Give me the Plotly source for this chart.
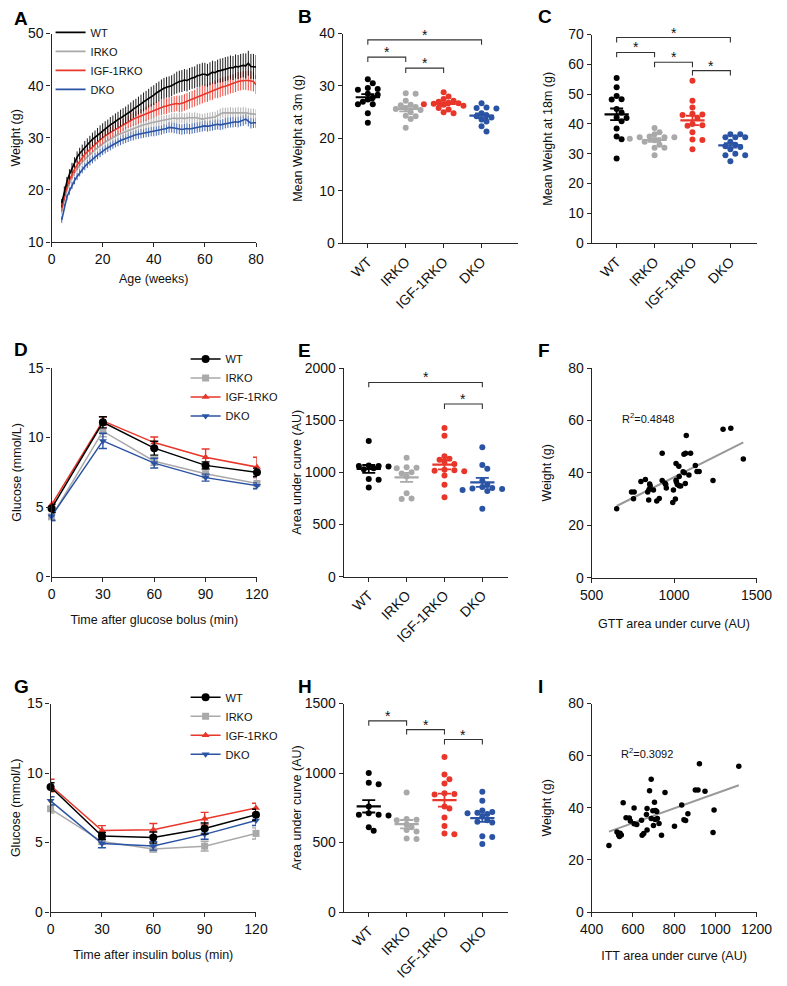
import numpy as np
import plotly.graph_objects as go

W, H = 787, 986
FONT = "Liberation Sans, Arial, sans-serif"

groups = ["WT", "IRKO", "IGF-1RKO", "DKO"]
colors = ["#000000", "#a9a9a9", "#e8362a", "#2b53a4"]

# ---------------- Panel A: weekly body weight ----------------
weeks = list(range(4, 81))
wt_weight = [17.5, 19.8, 21.6, 23.0, 24.2, 25.3, 26.3, 27.0, 27.6, 28.2, 28.7, 29.2, 29.7, 30.1, 30.6, 31.0, 31.4,
             31.8, 32.1, 32.5, 32.8, 33.2, 33.5, 33.8, 34.1, 34.4, 34.8, 35.1, 35.5, 35.8, 36.2, 36.5, 36.9, 37.2,
             37.6, 37.9, 38.2, 38.6, 38.9, 39.3, 39.5, 39.7, 39.8, 40.0, 40.3, 40.6, 40.8, 40.9, 41.1, 41.0, 41.3,
             41.5, 41.6, 41.9, 42.0, 42.2, 42.2, 42.0, 42.3, 42.6, 42.5, 42.8, 42.9, 43.0, 43.2, 43.3, 43.5, 43.4,
             43.7, 43.6, 43.8, 43.9, 43.8, 44.3, 43.7, 43.7, 43.6]
irko_weight = [15.8, 18.3, 20.0, 21.3, 22.4, 23.3, 24.1, 24.8, 25.4, 25.9, 26.4, 26.9, 27.3, 27.7, 28.1, 28.5, 28.9,
               29.2, 29.5, 29.8, 30.1, 30.3, 30.6, 30.8, 31.0, 31.2, 31.4, 31.6, 31.8, 32.0, 32.2, 32.3, 32.5, 32.6,
               32.8, 32.9, 33.0, 33.1, 33.2, 33.3, 33.3, 33.4, 33.5, 33.7, 33.8, 33.7, 33.8, 33.8, 33.7, 33.8, 33.9,
               33.8, 33.9, 33.8, 33.7, 33.6, 33.7, 33.8, 33.9, 34.0, 34.0, 34.3, 34.6, 34.8, 34.8, 34.8, 34.9, 34.8,
               34.8, 34.9, 34.8, 34.9, 34.8, 34.7, 34.6, 34.6, 34.5]
igf_weight = [16.5, 18.8, 20.6, 21.9, 23.0, 24.0, 24.8, 25.5, 26.2, 26.8, 27.3, 27.8, 28.3, 28.8, 29.2, 29.6, 30.0,
              30.4, 30.7, 31.0, 31.3, 31.6, 31.9, 32.2, 32.5, 32.8, 33.1, 33.4, 33.6, 33.8, 34.0, 34.2, 34.4, 34.6,
              34.9, 35.1, 35.3, 35.5, 35.7, 35.9, 36.0, 36.1, 36.3, 36.4, 36.5, 36.6, 36.5, 36.6, 36.8, 37.0, 37.2,
              37.4, 37.6, 37.9, 38.1, 38.3, 38.5, 38.6, 38.9, 39.0, 39.3, 39.4, 39.6, 39.8, 39.9, 40.1, 40.3, 40.4,
              40.6, 40.8, 40.9, 41.0, 41.0, 41.0, 40.9, 40.8, 40.2]
dko_weight = [14.3, 16.8, 18.6, 19.8, 20.9, 21.8, 22.6, 23.3, 23.9, 24.5, 25.0, 25.5, 25.9, 26.3, 26.7, 27.1, 27.5,
              27.8, 28.1, 28.4, 28.7, 29.0, 29.2, 29.5, 29.7, 29.9, 30.1, 30.3, 30.4, 30.6, 30.7, 30.8, 30.9, 31.0,
              31.1, 31.2, 31.2, 31.3, 31.4, 31.5, 31.7, 31.8, 32.0, 32.0, 31.9, 31.8, 31.7, 31.6, 31.7, 31.8, 31.7,
              31.8, 31.9, 32.0, 32.1, 32.2, 32.3, 32.2, 32.3, 32.4, 32.5, 32.6, 32.5, 32.6, 32.8, 32.9, 33.0, 33.0,
              33.1, 33.0, 33.2, 33.3, 33.6, 33.2, 32.8, 32.9, 32.9]
wt_weight_sem = [0.8, 0.9, 0.9, 1.0, 1.0, 1.0, 1.1, 1.1, 1.1, 1.2, 1.2, 1.2, 1.3, 1.3, 1.3, 1.4, 1.4, 1.4, 1.4, 1.5,
                 1.5, 1.5, 1.5, 1.6, 1.6, 1.6, 1.6, 1.7, 1.7, 1.7, 1.7, 1.8, 1.8, 1.8, 1.8, 1.9, 1.9, 1.9, 1.9, 1.9,
                 2.0, 2.0, 2.0, 2.0, 2.0, 2.1, 2.1, 2.1, 2.1, 2.1, 2.1, 2.1, 2.1, 2.2, 2.2, 2.2, 2.2, 2.2, 2.2, 2.2,
                 2.2, 2.2, 2.3, 2.3, 2.3, 2.3, 2.3, 2.3, 2.3, 2.3, 2.3, 2.3, 2.4, 2.4, 2.4, 2.4, 2.3]
irko_weight_sem = [0.5, 0.6, 0.6, 0.6, 0.6, 0.7, 0.7, 0.7, 0.7, 0.7, 0.7, 0.7, 0.7, 0.8, 0.8, 0.8, 0.8, 0.8, 0.8,
                   0.8, 0.8, 0.8, 0.8, 0.8, 0.9, 0.9, 0.9, 0.9, 0.9, 0.9, 0.9, 0.9, 0.9, 0.9, 0.9, 0.9, 1.0, 1.0,
                   1.0, 1.0, 1.0, 1.0, 1.0, 1.0, 1.0, 1.0, 1.0, 1.0, 1.0, 1.0, 1.0, 1.0, 1.0, 1.0, 1.0, 1.0, 1.0,
                   1.0, 1.0, 1.0, 1.0, 1.0, 1.0, 1.0, 1.0, 1.0, 1.0, 1.0, 1.0, 1.0, 1.0, 1.0, 1.0, 1.0, 1.0, 1.0, 1.0]
igf_weight_sem = [0.6, 0.7, 0.7, 0.8, 0.8, 0.8, 0.9, 0.9, 0.9, 0.9, 1.0, 1.0, 1.0, 1.0, 1.0, 1.1, 1.1, 1.1, 1.1,
                  1.1, 1.1, 1.2, 1.2, 1.2, 1.2, 1.2, 1.2, 1.3, 1.3, 1.3, 1.3, 1.3, 1.3, 1.4, 1.4, 1.4, 1.4, 1.4,
                  1.4, 1.5, 1.5, 1.5, 1.5, 1.5, 1.5, 1.5, 1.6, 1.6, 1.6, 1.6, 1.6, 1.6, 1.6, 1.7, 1.7, 1.7, 1.7,
                  1.7, 1.7, 1.7, 1.7, 1.8, 1.8, 1.8, 1.8, 1.8, 1.8, 1.8, 1.8, 1.8, 1.8, 1.8, 1.8, 1.9, 1.9, 1.9, 1.8]
dko_weight_sem = [0.6, 0.6, 0.6, 0.7, 0.7, 0.7, 0.7, 0.7, 0.7, 0.7, 0.8, 0.8, 0.8, 0.8, 0.8, 0.8, 0.8, 0.8, 0.8,
                  0.8, 0.8, 0.8, 0.8, 0.9, 0.9, 0.9, 0.9, 0.9, 0.9, 0.9, 0.9, 0.9, 0.9, 0.9, 0.9, 0.9, 0.9, 0.9,
                  0.9, 0.9, 0.9, 0.9, 1.0, 1.0, 1.0, 1.0, 1.0, 1.0, 1.0, 1.0, 1.0, 1.0, 1.0, 1.0, 1.0, 1.0, 1.0,
                  1.0, 1.0, 1.0, 1.0, 1.0, 1.0, 1.0, 1.0, 1.0, 1.0, 1.0, 1.0, 1.0, 1.0, 1.0, 1.0, 1.0, 1.0, 1.0, 1.0]

# ---------------- Panel B: weight at 3 months ----------------
b_wt = [31.3, 30.5, 29.6, 29.4, 29.3, 28.5, 28.3, 27.8, 27.4, 27.0, 26.5, 26.5, 24.8, 23.0]
b_irko = [28.6, 28.5, 27.2, 26.4, 26.3, 26.0, 25.8, 25.6, 25.4, 25.0, 24.3, 24.2, 23.7, 22.0]
b_igf = [28.8, 28.0, 27.5, 27.2, 27.0, 26.8, 26.7, 26.6, 26.5, 26.4, 26.2, 25.8, 25.5, 25.0, 24.8]
b_dko = [26.7, 25.9, 25.8, 25.7, 24.8, 24.2, 24.4, 24.0, 23.6, 23.2, 22.3, 21.3]

# ---------------- Panel C: weight at 18 months ----------------
c_wt = [55.4, 52.3, 49.4, 48.3, 48.2, 45.0, 43.8, 42.0, 42.2, 40.9, 38.5, 35.8, 34.9, 28.4]
c_irko = [38.6, 37.2, 36.5, 35.8, 35.5, 35.5, 35.5, 35.0, 34.5, 34.0, 33.0, 32.0, 32.0, 29.5]
c_igf = [54.5, 47.8, 45.5, 43.4, 43.2, 43.0, 42.0, 40.0, 39.6, 39.4, 37.2, 34.8, 34.6, 31.5]
c_dko = [36.5, 36.5, 35.5, 35.5, 35.5, 34.0, 33.0, 32.5, 32.3, 31.5, 30.0, 29.5, 29.5, 27.5]

# ---------------- Panel D: GTT ----------------
gtt_time = [0, 30, 60, 90, 120]
gtt_mean = {"WT": [4.9, 11.1, 9.24, 8.0, 7.5],
            "IRKO": [4.3, 10.46, 8.3, 7.4, 6.7],
            "IGF-1RKO": [5.17, 11.2, 9.64, 8.58, 7.88],
            "DKO": [4.35, 9.76, 8.16, 7.12, 6.54]}
gtt_sem = {"WT": [0.3, 0.4, 0.5, 0.25, 0.3],
           "IRKO": [0.3, 0.4, 0.3, 0.3, 0.4],
           "IGF-1RKO": [0.2, 0.3, 0.4, 0.6, 0.7],
           "DKO": [0.3, 0.55, 0.35, 0.25, 0.2]}

# ---------------- Panel E: GTT AUC ----------------
e_wt = [1300, 1065, 1060, 1060, 1055, 1040, 1030, 935, 930, 855]
e_irko = [1140, 1050, 1045, 1040, 1000, 990, 960, 800, 750, 745]
e_igf = [1425, 1350, 1155, 1130, 1120, 1100, 1080, 1025, 1020, 1015, 1010, 970, 880, 760]
e_dko = [1240, 1070, 1035, 920, 880, 860, 850, 845, 840, 830, 820, 650]

# ---------------- Panel F: weight vs GTT AUC ----------------
f_auc = [652, 742, 758, 754, 799, 826, 846, 852, 855, 840, 848, 875, 895, 910, 928, 928, 949, 953, 945, 992,
         996, 1008, 1012, 1014, 1012, 1029, 1031, 1031, 1055, 1060, 1070, 1068, 1074, 1090, 1100, 1129, 1139,
         1152, 1236, 1297, 1344, 1420, 1040, 1020, 1062]
f_weight = [26.3, 32.7, 32.7, 30.1, 36.7, 37.5, 29.6, 35.7, 35.0, 32.7, 33.6, 33.4, 29.2, 30.2, 47.5, 37.1, 35.5,
            34.2, 36.0, 28.7, 33.4, 30.0, 43.6, 36.5, 37.2, 42.5, 38.6, 35.1, 40.4, 47.1, 47.5, 35.9, 54.3, 39.2,
            47.5, 42.8, 40.5, 40.5, 37.1, 56.6, 57.0, 45.3, 35.0, 35.5, 40.0]
f_r2 = "R<sup>2</sup>=0.4848"

# ---------------- Panel G: ITT ----------------
itt_time = [0, 30, 60, 90, 120]
itt_mean = {"WT": [9.0, 5.47, 5.36, 6.01, 7.0],
            "IRKO": [7.43, 5.07, 4.53, 4.74, 5.66],
            "IGF-1RKO": [9.1, 5.87, 5.92, 6.72, 7.48],
            "DKO": [8.0, 4.93, 4.76, 5.59, 6.58]}
itt_sem = {"WT": [0.3, 0.25, 0.4, 0.4, 0.4],
           "IRKO": [0.3, 0.2, 0.2, 0.35, 0.4],
           "IGF-1RKO": [0.45, 0.35, 0.45, 0.45, 0.35],
           "DKO": [0.3, 0.3, 0.3, 0.35, 0.35]}

# ---------------- Panel H: ITT AUC ----------------
h_wt = [1000, 930, 920, 760, 710, 700, 700, 695, 610, 585]
h_irko = [860, 670, 665, 660, 630, 610, 590, 580, 530, 525]
h_igf = [1115, 990, 955, 925, 855, 850, 845, 760, 745, 680, 620, 565, 560]
h_dko = [865, 800, 730, 720, 715, 710, 705, 690, 660, 650, 645, 545, 540, 490]

# ---------------- Panel I: weight vs ITT AUC ----------------
i_auc = [484, 523, 531, 538, 544, 535, 553, 567, 583, 588, 606, 606, 619, 642, 645, 653, 666, 669, 669, 681,
         689, 689, 697, 705, 700, 708, 716, 719, 727, 739, 756, 802, 837, 848, 856, 867, 903, 916, 923, 950,
         989, 994, 1114, 710]
i_weight = [25.5, 30.7, 29.6, 30.2, 29.6, 29.0, 41.9, 36.2, 36.1, 34.9, 39.9, 33.9, 33.6, 35.2, 29.5, 30.1, 37.4,
            39.7, 31.5, 46.5, 51.0, 35.9, 38.9, 42.1, 33.2, 35.5, 38.6, 35.9, 34.0, 29.5, 45.9, 32.9, 41.1, 35.4,
            35.1, 37.7, 46.8, 46.8, 56.9, 46.4, 30.5, 39.2, 55.9, 39.0]
i_r2 = "R<sup>2</sup>=0.3092"

# significance brackets: (group i, group j, height)
b_sig = [(0, 3, 38.8), (0, 1, 35.5), (1, 2, 33.4)]
c_sig = [(0, 3, 69.0), (0, 1, 64.0), (1, 2, 60.7), (2, 3, 57.9)]
e_sig = [(0, 3, 1862), (2, 3, 1655)]
h_sig = [(0, 1, 1375), (1, 2, 1312), (2, 3, 1241)]

# ------------------------------------------------------------------
fig = go.Figure()

# panel pixel boxes: (left, right, top, bottom)
boxes = {
    1: (41, 253, 26, 238), 2: (343, 525, 26, 239), 3: (601, 772, 27, 239),
    4: (41, 254, 366, 578), 5: (344, 514, 366, 578), 6: (601, 772, 366, 579),
    7: (40, 253, 707, 919), 8: (344, 514, 707, 919), 9: (601, 772, 707, 919),
}
axis_line = "#262626"
TICK_SIZE = 14
TITLE_SIZE = 12.5
base_axis = dict(showline=True, linecolor=axis_line, linewidth=1.2, ticks="outside", ticklen=4,
                 tickwidth=1.2, tickcolor=axis_line, showgrid=False, zeroline=False,
                 tickfont=dict(size=TICK_SIZE, color="#111", family=FONT), fixedrange=True)
layout = {}


def set_axes(n, xr, yr, xtitle=None, ytitle=None, xdtick=None, ydtick=None, cat=False,
             ystand=10, xstand=8):
    l, r, t, b = boxes[n]
    xa = dict(base_axis, domain=[l / W, r / W], range=xr, anchor="y" + ("" if n == 1 else str(n)))
    ya = dict(base_axis, domain=[1 - b / H, 1 - t / H], range=yr, anchor="x" + ("" if n == 1 else str(n)))
    if cat:
        xa.update(tickmode="array", tickvals=list(range(len(groups))), ticktext=groups, tickangle=-45)
    else:
        xa.update(dtick=xdtick, tick0=xr[0])
    ya.update(dtick=ydtick, tick0=0)
    if xtitle:
        xa["title"] = dict(text=xtitle, font=dict(size=TITLE_SIZE, color="#111", family=FONT), standoff=xstand)
    if ytitle:
        ya["title"] = dict(text=ytitle, font=dict(size=TITLE_SIZE, color="#111", family=FONT), standoff=ystand)
    key = "" if n == 1 else str(n)
    layout["xaxis" + key] = xa
    layout["yaxis" + key] = ya


def axref(n):
    return ("x", "y") if n == 1 else ("x" + str(n), "y" + str(n))


# ---- Panel A ----
set_axes(1, [0, 80], [10, 50], "Age (weeks)", "Weight (g)", 20, 10, ystand=4, xstand=8)
a_series = [("DKO", dko_weight, dko_weight_sem), ("IRKO", irko_weight, irko_weight_sem),
            ("IGF-1RKO", igf_weight, igf_weight_sem), ("WT", wt_weight, wt_weight_sem)]
for name, ys, es in a_series:
    gi = groups.index(name)
    c = colors[gi]
    fig.add_trace(go.Scatter(x=weeks, y=ys, mode="lines", name=name, line=dict(color=c, width=1.6),
                             error_y=dict(type="data", array=es, width=0, thickness=0.9, color=c),
                             xaxis="x", yaxis="y", legend="legend", showlegend=True, legendrank=gi + 1))


# ---- dot plots ----
def swarm_offsets(vals, ppu_y, ppu_x=39.3, d=5.4):
    placed = []
    offs = [0.0] * len(vals)
    order = sorted(range(len(vals)), key=lambda k: -vals[k])
    for k in order:
        y = vals[k] * ppu_y
        cands = [0]
        for s in range(1, 12):
            cands += [s * d * 0.95, -s * d * 0.95]
        for cx in cands:
            ok = all((cx - px) ** 2 + (y - py) ** 2 >= d * d for px, py in placed)
            if ok:
                placed.append((cx, y))
                offs[k] = cx / ppu_x
                break
    return offs


def dot_panel(n, data_sets, yr, sig):
    xa, ya = axref(n)
    l, r, t, b = boxes[n]
    ppu_y = (b - t) / (yr[1] - yr[0])
    for gi, vals in enumerate(data_sets):
        c = colors[gi]
        offs = swarm_offsets(vals, ppu_y)
        fig.add_trace(go.Scatter(x=[gi + o for o in offs], y=vals, mode="markers",
                                 marker=dict(color=c, size=6, line=dict(width=0)),
                                 xaxis=xa, yaxis=ya, showlegend=False, cliponaxis=False))
        m = float(np.mean(vals))
        sem = float(np.std(vals, ddof=1) / np.sqrt(len(vals)))
        fig.add_trace(go.Scatter(x=[gi - 0.32, gi + 0.32], y=[m, m], mode="lines",
                                 line=dict(color=c, width=2.2), xaxis=xa, yaxis=ya, showlegend=False))
        fig.add_trace(go.Scatter(x=[gi], y=[m], mode="markers", marker=dict(size=1, color=c, opacity=0),
                                 error_y=dict(type="data", array=[sem], width=6.5, thickness=1.8, color=c),
                                 xaxis=xa, yaxis=ya, showlegend=False))
    tick = 5.0 / ppu_y
    for i, j, h in sig:
        fig.add_trace(go.Scatter(x=[i, i, j, j], y=[h - tick, h, h, h - tick], mode="lines",
                                 line=dict(color="#333333", width=1.1), xaxis=xa, yaxis=ya,
                                 showlegend=False, hoverinfo="skip"))
        fig.add_annotation(x=(i + j) / 2, y=h, xref=xa, yref=ya, text="*", showarrow=False,
                           yanchor="bottom", yshift=-5, font=dict(size=14, color="#111", family=FONT))


set_axes(2, [-0.66, 3.97], [0, 40], None, "Mean Weight at 3m (g)", ydtick=10, cat=True, ystand=13)
dot_panel(2, [b_wt, b_irko, b_igf, b_dko], [0, 40], b_sig)
set_axes(3, [-0.66, 3.69], [0, 70], None, "Mean Weight at 18m (g)", ydtick=10, cat=True, ystand=12)
dot_panel(3, [c_wt, c_irko, c_igf, c_dko], [0, 70], c_sig)
set_axes(5, [-0.66, 3.67], [0, 2000], None, "Area under curve (AU)", ydtick=500, cat=True, ystand=0)
dot_panel(5, [e_wt, e_irko, e_igf, e_dko], [0, 2000], e_sig)
set_axes(8, [-0.66, 3.67], [0, 1500], None, "Area under curve (AU)", ydtick=500, cat=True, ystand=0)
dot_panel(8, [h_wt, h_irko, h_igf, h_dko], [0, 1500], h_sig)

# ---- time courses ----
symbols = ["circle", "square", "triangle-up", "triangle-down"]
msizes = [8, 7, 7, 7]


def time_panel(n, times, means, sems, legend_name):
    xa, ya = axref(n)
    for gi in [1, 3, 2, 0]:
        name = groups[gi]
        c = colors[gi]
        fig.add_trace(go.Scatter(x=times, y=means[name], mode="lines+markers", name=name,
                                 line=dict(color=c, width=1.5),
                                 marker=dict(symbol=symbols[gi], size=msizes[gi], color=c),
                                 error_y=dict(type="data", array=sems[name], width=4, thickness=1.4, color=c),
                                 xaxis=xa, yaxis=ya, legend=legend_name, legendrank=gi + 1,
                                 showlegend=True, cliponaxis=False))


set_axes(4, [0, 120], [0, 15], "Time after glucose bolus (min)", "Glucose (mmol/L)", 30, 5, ystand=3, xstand=14)
time_panel(4, gtt_time, gtt_mean, gtt_sem, "legend2")
set_axes(7, [0, 120], [0, 15], "Time after insulin bolus (min)", "Glucose (mmol/L)", 30, 5, ystand=3, xstand=14)
time_panel(7, itt_time, itt_mean, itt_sem, "legend3")


# ---- correlation panels ----
def corr_panel(n, xs, ys, r2_text, r2_pos):
    xa, ya = axref(n)
    k, b0 = np.polyfit(xs, ys, 1)
    x0, x1 = min(xs), max(xs)
    fig.add_trace(go.Scatter(x=[x0, x1], y=[k * x0 + b0, k * x1 + b0], mode="lines",
                             line=dict(color="#999999", width=2), xaxis=xa, yaxis=ya, showlegend=False))
    fig.add_trace(go.Scatter(x=xs, y=ys, mode="markers", marker=dict(color="#000", size=5.5),
                             xaxis=xa, yaxis=ya, showlegend=False))
    fig.add_annotation(x=r2_pos[0], y=r2_pos[1], xref=xa, yref=ya, text=r2_text, showarrow=False,
                       font=dict(size=11, color="#111", family=FONT))


set_axes(6, [500, 1500], [0, 80], "GTT area under curve (AU)", "Weight (g)", 500, 20, ystand=13, xstand=17)
corr_panel(6, f_auc, f_weight, f_r2, (840, 61))
set_axes(9, [400, 1200], [0, 80], "ITT area under curve (AU)", "Weight (g)", 200, 20, ystand=13, xstand=15)
corr_panel(9, i_auc, i_weight, i_r2, (669, 61))

# ---- panel letters ----
letters = [("A", 0, 11), ("B", 294, 9), ("C", 543, 9), ("D", 0, 347), ("E", 294, 348), ("F", 543, 348),
           ("G", 0, 690), ("H", 294, 690), ("I", 543, 690)]
for txt, px, py in letters:
    fig.add_annotation(x=px / W, y=1 - py / H, xref="paper", yref="paper", text="<b>%s</b>" % txt,
                       showarrow=False, xanchor="left", yanchor="middle",
                       font=dict(size=19, color="#000", family=FONT))

leg_common = dict(bgcolor="rgba(0,0,0,0)", borderwidth=0, font=dict(size=11, color="#111", family=FONT),
                  xanchor="left", yanchor="top", traceorder="normal", itemclick=False, itemdoubleclick=False)
fig.update_layout(
    width=W, height=H, margin=dict(l=0, r=0, t=0, b=0), paper_bgcolor="white", plot_bgcolor="white",
    font=dict(family=FONT, color="#111"), hovermode=False,
    legend=dict(leg_common, x=40 / W, y=1 - 10 / H),
    legend2=dict(leg_common, x=180 / W, y=1 - 342 / H),
    legend3=dict(leg_common, x=180 / W, y=1 - 686 / H),
    **layout,
)
fig.write_html("out.html")
